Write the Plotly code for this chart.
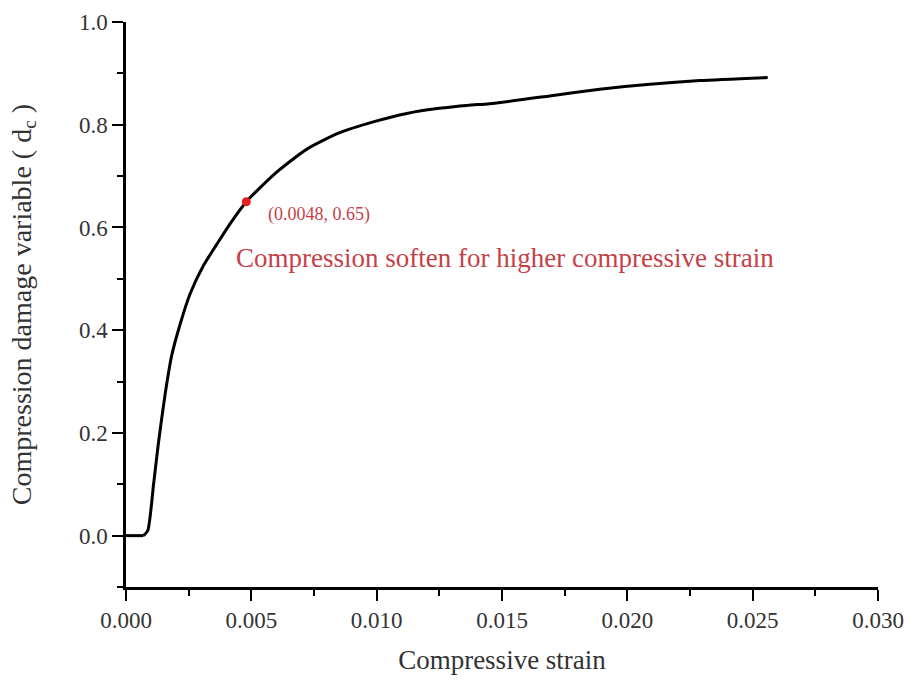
import plotly.graph_objects as go

# Compression damage evolution curve
strain = [0.0, 0.0007, 0.00087, 0.0011, 0.00129, 0.00156, 0.00182, 0.00215, 0.00255,
          0.00308, 0.00362, 0.00415, 0.0048, 0.0059, 0.0072, 0.0085, 0.0099, 0.0112,
          0.0125, 0.0137, 0.0145, 0.0169, 0.0189, 0.0209, 0.0229, 0.0256]
damage = [0.0, 0.0, 0.01, 0.10, 0.179, 0.275, 0.350, 0.410, 0.470,
          0.525, 0.567, 0.607, 0.65, 0.703, 0.752, 0.784, 0.806, 0.822,
          0.832, 0.838, 0.841, 0.856, 0.869, 0.879, 0.886, 0.892]

# Highlighted point on the curve
point_strain = [0.0048]
point_damage = [0.65]
point_label = "(0.0048, 0.65)"
note_text = "Compression soften for higher compressive strain"

x_ticks = [0.000, 0.005, 0.010, 0.015, 0.020, 0.025, 0.030]
y_ticks = [0.0, 0.2, 0.4, 0.6, 0.8, 1.0]

serif = "Liberation Serif, Times New Roman, serif"
red_text = "#c63f48"
grey_text = "#333333"

fig = go.Figure()
# flat segment kept straight, rising branch smoothed
fig.add_trace(go.Scatter(
    x=strain[:2], y=damage[:2], mode="lines",
    line=dict(color="black", width=3),
    showlegend=False, hoverinfo="skip",
))
fig.add_trace(go.Scatter(
    x=strain[1:], y=damage[1:], mode="lines",
    line=dict(color="black", width=3, shape="spline", smoothing=0.6),
    showlegend=False, hoverinfo="skip",
))
fig.add_trace(go.Scatter(
    x=point_strain, y=point_damage, mode="markers",
    marker=dict(color="#e3201c", size=9),
    showlegend=False,
))

fig.add_annotation(
    x=point_strain[0], y=point_damage[0], text=point_label,
    showarrow=False, xanchor="left", yanchor="middle",
    xshift=20, yshift=-13,
    font=dict(family=serif, size=18, color=red_text),
)
fig.add_annotation(
    x=point_strain[0], y=point_damage[0], text=note_text,
    showarrow=False, xanchor="left", yanchor="middle",
    xshift=-12, yshift=-56,
    font=dict(family=serif, size=27, color=red_text),
)

axis_common = dict(
    showline=True, linecolor="black", linewidth=2.5,
    ticks="outside", ticklen=11, tickwidth=2.2, tickcolor="black",
    showgrid=False, zeroline=False, automargin=False,
    tickfont=dict(family=serif, size=23, color=grey_text),
)

fig.update_xaxes(
    range=[0.0, 0.030], tickvals=x_ticks,
    ticktext=[f"{v:.3f}" for v in x_ticks],
    minor=dict(dtick=0.0025, ticks="outside", ticklen=6, tickwidth=2.2, tickcolor="black"),
    title=dict(text="Compressive strain", font=dict(family=serif, size=27, color=grey_text),
               standoff=18),
    **axis_common,
)
fig.update_yaxes(
    range=[-0.1, 1.0], tickvals=y_ticks,
    ticktext=[f"{v:.1f}" for v in y_ticks],
    minor=dict(dtick=0.1, ticks="outside", ticklen=6, tickwidth=2.2, tickcolor="black"),
    title=dict(text="Compression damage variable ( d<sub>c</sub> )",
               font=dict(family=serif, size=28, color=grey_text), standoff=40),
    **axis_common,
)

fig.update_layout(
    width=910, height=681,
    margin=dict(l=126, r=32, t=22, b=94),
    plot_bgcolor="white", paper_bgcolor="white",
)

fig.write_html("out.html")
